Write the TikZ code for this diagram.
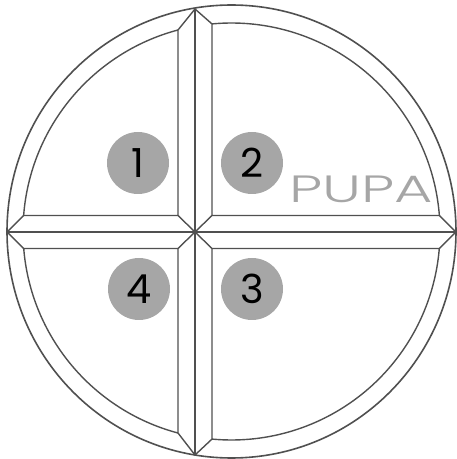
\documentclass[tikz,border=0pt]{standalone}
\usepackage{fontspec}
\setmainfont{Poppins}
\newfontfamily\logofont{Poppins Light}
\usepackage{tikz}
\usetikzlibrary{calc, shapes.geometric}
\definecolor{lineGray}{HTML}{505050}
\definecolor{badgeGray}{HTML}{A6A6A6}
\definecolor{logoGray}{HTML}{A6A6A6}

\begin{document}
\begin{tikzpicture}[x=1pt, y=1pt,
  every node/.style={text=black},
  rim/.style={draw=lineGray, line width=1.6pt},
  seam/.style={draw=lineGray, line width=1.4pt},
  badge/.style={circle, fill=badgeGray, minimum size=62pt, inner sep=0pt,
                font=\fontsize{40}{40}\selectfont}]

  \useasboundingbox (0,0) rectangle (457,459);

  %% ═══════════════════════════════════════════════════════════════
  %% REFERENCE POINTS
  %% ═══════════════════════════════════════════════════════════════

  \coordinate (dish) at (231.5,227.5);

  \coordinate (tipN) at (195,450);
  \coordinate (tipS) at (195,4);
  \coordinate (tipW) at (7,227);
  \coordinate (tipE) at (456,227);

  \coordinate (hubNW) at (178,243.5);
  \coordinate (hubNE) at (212,243.5);
  \coordinate (hubSE) at (212,210.5);
  \coordinate (hubSW) at (178,210.5);

  \coordinate (nwTop) at ($(dish)+(104.87:208.5)$);
  \coordinate (nwSide) at ($(dish)+(175.6:208.5)$);
  \coordinate (neTop) at ($(dish)+(95.37:208.5)$);
  \coordinate (neSide) at ($(dish)+(4.4:208.5)$);
  \coordinate (seBot) at ($(dish)+(-95.37:208.5)$);
  \coordinate (seSide) at ($(dish)+(-4.68:208.5)$);
  \coordinate (swBot) at ($(dish)+(-104.87:208.5)$);
  \coordinate (swSide) at ($(dish)+(-175.32:208.5)$);

  %% ═══════════════════════════════════════════════════════════════
  %% OUTER RING + QUADRANTS
  %% ═══════════════════════════════════════════════════════════════

  \node[rim, ellipse, minimum width=449pt, minimum height=453pt, inner sep=0pt] (ring) at (dish) {};

  \draw[seam] (hubNW) -- (nwTop) arc[start angle=104.87, end angle=175.6, radius=208.5] -- cycle;
  \draw[seam] (hubNE) -- (neTop) arc[start angle=95.37, end angle=4.4, radius=208.5] -- cycle;
  \draw[seam] (hubSE) -- (seBot) arc[start angle=-95.37, end angle=-4.68, radius=208.5] -- cycle;
  \draw[seam] (hubSW) -- (swBot) arc[start angle=-104.87, end angle=-175.32, radius=208.5] -- cycle;

  %% ═══════════════════════════════════════════════════════════════
  %% CROSS AND BEVELS
  %% ═══════════════════════════════════════════════════════════════

  \draw[seam] (tipN) -- (tipS);
  \draw[seam] (tipW) -- (tipE);

  \draw[seam] (hubNW) -- (hubSE);
  \draw[seam] (hubNE) -- (hubSW);

  \draw[seam] (nwTop) -- (tipN) -- (neTop);
  \draw[seam] (nwSide) -- (tipW) -- (swSide);
  \draw[seam] (neSide) -- (tipE) -- (seSide);
  \draw[seam] (swBot) -- (tipS) -- (seBot);

  %% ═══════════════════════════════════════════════════════════════
  %% NUMBERS + LOGO
  %% ═══════════════════════════════════════════════════════════════

  \node[badge] (one) at (138,296) {1};
  \node[badge] (two) at (252,296) {2};
  \node[badge] (four) at (139,170) {4};
  \node[badge] (three) at (252,170) {3};

  \node[text=logoGray, inner sep=0pt, xscale=1.55, font=\logofont\fontsize{38}{38}\selectfont]
      (logo) at (361,270) {PUPA};

\end{tikzpicture}
\end{document}
